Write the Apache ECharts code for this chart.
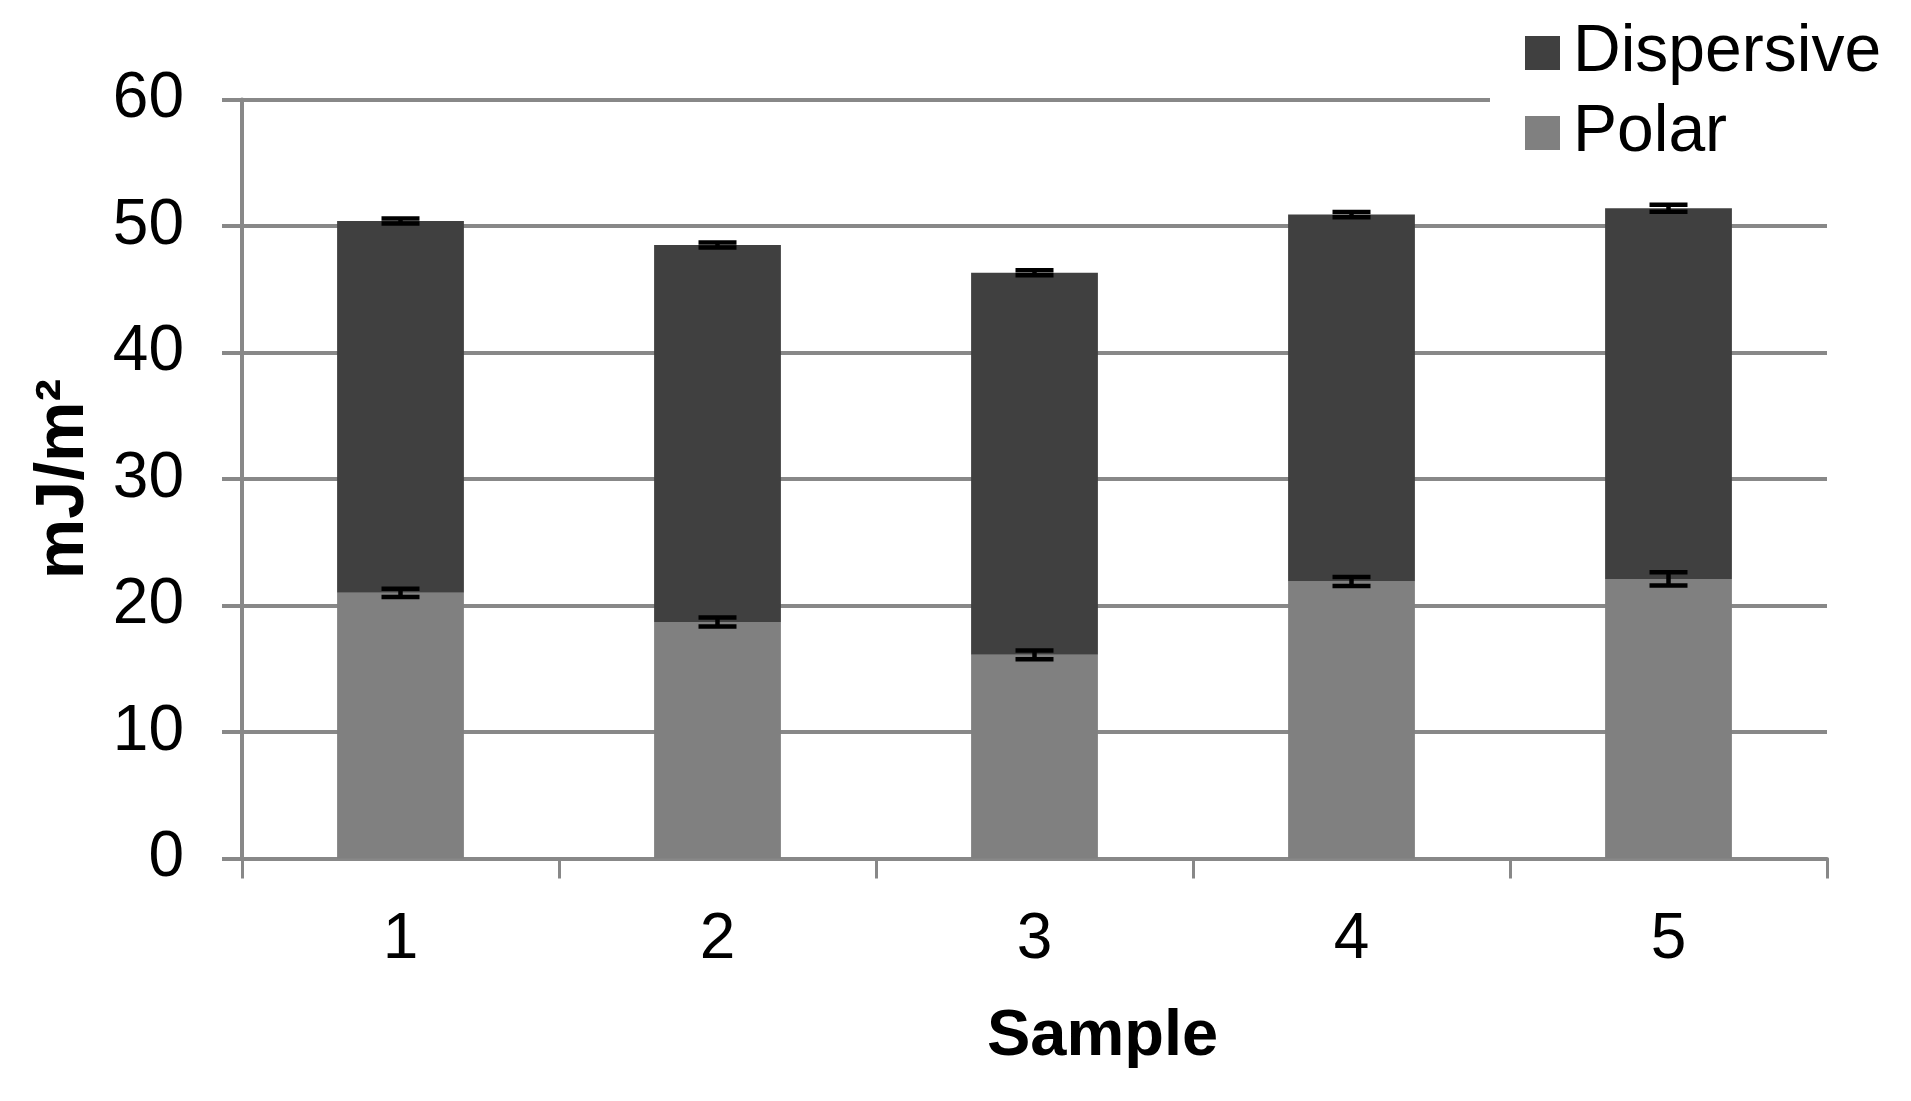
<!DOCTYPE html>
<html>
<head>
<meta charset="utf-8">
<script src="https://cdn.jsdelivr.net/npm/echarts@6/dist/echarts.min.js"></script>
<style>
html,body{margin:0;padding:0;background:#fff;}
#chart{width:1911px;height:1101px;}
</style>
</head>
<body>
<div id="chart"></div>
<script>
const categories = ['1', '2', '3', '4', '5'];
const polar = [21.0, 18.7, 16.1, 21.9, 22.1];
const dispersive = [29.4, 29.8, 30.2, 29.0, 29.3];
const polarErr = [0.32, 0.36, 0.35, 0.36, 0.52];
const totalErr = [0.2, 0.2, 0.2, 0.2, 0.28];
const yTicks = [0, 10, 20, 30, 40, 50, 60];

const FONT = '"Liberation Sans", Arial, sans-serif';
const GREY = '#888888';

const polarErrData = categories.map((c, i) => [i, polar[i], polarErr[i]]);
const totalErrData = categories.map((c, i) => [i, polar[i] + dispersive[i], totalErr[i]]);

function errRender(params, api) {
  const i = api.value(0), v = api.value(1), e = api.value(2);
  const top = api.coord([i, v + e]);
  const bot = api.coord([i, v - e]);
  const half = 19;
  const style = { stroke: '#000', lineWidth: 4.5 };
  return {
    type: 'group',
    children: [
      { type: 'line', shape: { x1: top[0], y1: top[1], x2: bot[0], y2: bot[1] }, style },
      { type: 'line', shape: { x1: top[0] - half, y1: top[1], x2: top[0] + half, y2: top[1] }, style },
      { type: 'line', shape: { x1: bot[0] - half, y1: bot[1], x2: bot[0] + half, y2: bot[1] }, style }
    ]
  };
}

const chart = echarts.init(document.getElementById('chart'), null, { renderer: 'canvas' });
chart.setOption({
  animation: false,
  backgroundColor: '#fff',
  textStyle: { fontFamily: FONT },
  grid: { left: 242, right: 84, top: 99.5, bottom: 242.5, containLabel: false },
  legend: {
    data: ['Dispersive', 'Polar'],
    orient: 'vertical',
    left: 1490,
    top: 20,
    padding: [0, 10, 0, 35],
    backgroundColor: '#fff',
    itemWidth: 35,
    itemHeight: 34,
    itemGap: 14,
    icon: 'rect',
    textStyle: { fontSize: 66, color: '#000', fontFamily: FONT, padding: [0, 0, 0, 8] }
  },
  xAxis: {
    type: 'category',
    data: categories,
    name: 'Sample',
    nameLocation: 'middle',
    nameGap: 146,
    nameTextStyle: { fontSize: 65, fontWeight: 'bold', color: '#000', fontFamily: FONT, padding: [0, 0, 0, 136] },
    axisLine: { show: true, lineStyle: { color: GREY, width: 4 } },
    axisTick: { show: true, length: 20, lineStyle: { color: GREY, width: 3 } },
    axisLabel: { fontSize: 64, color: '#000', margin: 50, fontFamily: FONT },
    splitLine: { show: false }
  },
  yAxis: {
    type: 'value',
    min: 0,
    max: 60,
    interval: 10,
    name: 'mJ/m²',
    nameLocation: 'middle',
    nameGap: 144,
    nameTextStyle: { fontSize: 68, fontWeight: 'bold', color: '#000', fontFamily: FONT },
    axisLine: { show: true, lineStyle: { color: GREY, width: 4 } },
    axisTick: { show: true, length: 20, lineStyle: { color: GREY, width: 4 } },
    axisLabel: {
      fontSize: 64, color: '#000', margin: 58, fontFamily: FONT,
      formatter: (v) => yTicks.includes(v) ? String(v) : ''
    },
    splitLine: { show: true, lineStyle: { color: GREY, width: 4 } }
  },
  series: [
    {
      name: 'Polar', type: 'bar', stack: 'total', data: polar,
      barWidth: '40%', itemStyle: { color: '#808080' }
    },
    {
      name: 'Dispersive', type: 'bar', stack: 'total', data: dispersive,
      barWidth: '40%', itemStyle: { color: '#404040' }
    },
    {
      name: 'polarErr', type: 'custom', renderItem: errRender, data: polarErrData,
      encode: { x: 0, y: 1 }, z: 5
    },
    {
      name: 'totalErr', type: 'custom', renderItem: errRender, data: totalErrData,
      encode: { x: 0, y: 1 }, z: 5
    }
  ]
});
</script>
</body>
</html>
